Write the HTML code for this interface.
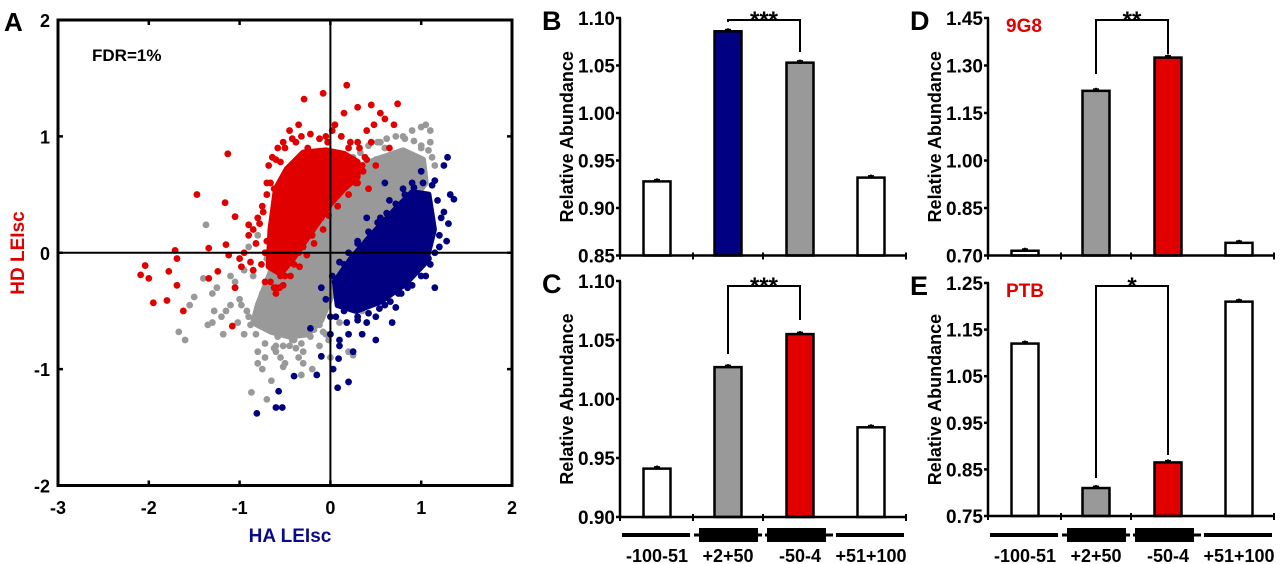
<!DOCTYPE html>
<html><head><meta charset="utf-8">
<style>
html,body{margin:0;padding:0;background:#fff;}
svg{display:block;font-family:"Liberation Sans",Arial,sans-serif;font-weight:bold;}
</style></head>
<body>
<svg id="fig" width="1280" height="564" viewBox="0 0 1280 564" xmlns="http://www.w3.org/2000/svg">
<g id="panelA"></g>
<g id="bars"></g>
</svg>
<script>
// ---------- Panel A data (data units) ----------
const aXTicks = [-3,-2,-1,0,1,2];
const aYTicks = [2,1,0,-1,-2];
const grayCoreX = [-0.8,-0.65,-0.45,-0.15,0.15,0.5,0.8,1.02,1.05,0.9,0.6,0.3,0.05,-0.1,-0.25,-0.45,-0.65,-0.85];
const grayCoreY = [-0.45,-0.15,0.2,0.5,0.68,0.8,0.88,0.8,0.6,0.45,0.2,-0.05,-0.3,-0.58,-0.7,-0.72,-0.68,-0.6];
const redCoreX = [-0.68,-0.66,-0.6,-0.48,-0.3,-0.05,0.15,0.3,0.3,0.15,0.0,-0.12,-0.28,-0.42,-0.55];
const redCoreY = [-0.12,0.2,0.55,0.72,0.86,0.88,0.85,0.78,0.65,0.55,0.42,0.28,0.1,-0.06,-0.18];
const blueCoreX = [0.05,0.22,0.45,0.7,0.9,1.08,1.14,1.05,0.82,0.55,0.28,0.08];
const blueCoreY = [-0.25,-0.06,0.15,0.36,0.52,0.5,0.2,-0.08,-0.27,-0.42,-0.5,-0.45];
const grayX = [-1.67,-1.6,-1.37,-1.5,-1.55,-1.35,-1.3,-1.2,-1.15,-1.1,-1.0,-0.95,-0.9,-0.87,-0.8,-0.75,-0.7,-0.65,-0.6,-0.55,-0.5,-0.45,-0.4,-0.35,-0.3,-0.25,-0.2,-0.15,-0.1,-0.05,0.05,0.1,0.2,0.3,0.35,0.4,0.5,0.6,0.7,0.8,0.9,1.0,1.05,1.1,1.1,0.95,0.85,0.75,0.6,0.45,0.3,0.15,-1.25,-1.05,-0.95,-0.85,-0.75,-0.65,-0.55,-0.45,-0.35,-0.25,-0.15,-0.05,0.0,0.2,0.25,-1.4,-1.3,-1.1,-0.9,-0.8,-0.7,-0.6,-0.5,-0.3,-0.2,0.1,0.35,0.65,0.85,1.15,1.0,0.55,-0.2,-0.4,-0.6,-0.8,-1.05,0.4,
 -0.92,-0.88,-0.82,-0.78,-0.72,-0.68,-0.62,-0.58,-0.52,-0.48,-0.42,-0.38,-0.32,-0.28,-0.22,-0.18,-0.12,-0.08,0.02,0.08,0.12,0.18,0.25,0.33,0.42,0.52,0.62,0.72,0.82,0.92,1.0,1.08,1.12,0.98,0.88,0.78,0.68,0.58,0.48,0.38,0.28,-0.02,-1.02,-1.18,-1.28,-0.98,-0.72,-0.52,-0.32,-0.12];
const grayY = [-0.68,-0.75,0.24,-0.38,-0.45,-0.62,-0.6,-0.55,-0.5,-0.45,-0.4,-0.7,-0.55,-1.2,-0.95,-1.0,-1.26,-1.1,-0.85,-0.9,-0.95,-0.8,-0.75,-0.9,-0.85,-0.6,-0.5,-0.3,-0.2,0.1,0.3,0.4,0.5,0.55,0.7,0.75,0.8,0.9,0.85,1.0,1.05,1.08,1.1,1.05,0.95,0.78,0.65,0.55,0.45,0.35,0.2,0.1,-0.3,-0.3,-0.15,-0.2,-0.35,-0.45,-0.6,-0.55,-0.65,-0.4,-0.55,-0.7,-0.9,-0.85,-0.88,-0.22,-0.35,-0.2,0.05,0.15,-0.05,-0.55,-0.7,-0.95,-1.0,-0.6,-0.5,0.3,0.55,0.75,0.9,0.95,-0.2,-0.1,-0.8,-0.85,-0.25,0.6,
 -0.5,-0.62,-0.7,-0.52,-0.78,-0.65,-0.82,-0.72,-0.8,-0.68,-0.75,-0.82,-0.78,-0.7,-0.72,-0.66,-0.62,-0.68,0.62,0.7,0.72,0.78,0.82,0.86,0.92,0.95,0.98,1.0,0.98,0.96,0.92,0.88,0.82,0.7,0.6,0.5,0.4,0.28,0.15,0.02,-0.08,-0.75,-0.6,-0.7,-0.5,-0.45,-0.9,-0.98,-1.05,-0.8];
const redX = [0.18,-0.08,-0.29,-1.13,-1.47,-1.16,-1.05,-0.9,-1.71,-1.69,-2.04,-2.09,-2.0,-1.78,-1.69,-1.95,-1.8,-1.62,-1.34,-1.34,-1.24,-1.15,-1.12,-1.05,-1.08,0.74,0.45,0.3,0.55,0.6,0.15,0.05,-0.05,-0.35,-0.45,-0.55,-0.6,-0.62,-0.7,-0.75,-0.8,-0.85,-0.9,-0.95,-0.98,-0.85,-0.72,-0.6,-0.5,-0.4,-0.3,-0.2,-0.1,0.0,0.1,0.2,0.3,0.4,0.48,0.35,0.25,0.1,-0.15,-0.25,-0.38,-0.5,-0.66,-0.58,-0.7,-0.65,-0.55,-0.45,-0.35,0.28,0.42,0.5,0.65,0.7,0.12,-0.03,-1.0,-0.78,-0.6,
 -0.72,-0.74,-0.7,-0.68,-0.64,-0.58,-0.52,-0.42,-0.32,-0.22,-0.12,0.02,0.12,0.22,0.32,0.38,0.36,0.3,0.2,0.08,-0.02,-0.08,-0.18,-0.26,-0.34,-0.44,-0.52,-0.62,-0.76,-0.82,-0.88,-0.66,-0.56,0.45,0.4,0.25,0.05,-0.2];
const redY = [1.44,1.37,1.32,0.85,0.5,0.43,0.31,0.24,0.02,-0.05,-0.11,-0.19,-0.22,-0.16,-0.28,-0.43,-0.41,-0.5,0.04,-0.22,-0.16,0.07,-0.02,-0.3,-0.63,1.28,1.27,1.25,1.2,1.15,1.2,1.1,1.0,1.1,1.05,0.78,0.8,0.55,0.5,0.4,0.3,0.2,0.15,0.0,-0.12,-0.15,-0.25,-0.3,-0.2,-0.1,0.05,0.15,0.3,0.55,0.85,0.9,0.95,1.05,1.1,0.75,0.7,0.65,0.8,0.9,0.95,0.9,0.6,0.45,0.1,-0.05,-0.2,-0.05,0.0,0.6,0.55,0.75,0.9,1.1,1.0,0.95,-0.05,0.25,-0.35,
 0.0,0.35,0.6,0.75,0.82,0.9,0.95,0.98,1.0,1.02,0.98,1.05,1.0,0.95,0.9,0.82,0.7,0.6,0.5,0.4,0.32,0.2,0.08,-0.02,-0.12,-0.2,-0.28,-0.3,-0.1,0.08,-0.08,-0.25,-0.3,0.95,0.8,0.62,0.5,0.2];
const blueX = [-0.81,-0.6,-0.53,-0.57,-0.4,-0.15,0.03,0.08,0.2,0.09,-0.1,-0.22,0.68,0.72,1.36,1.29,1.25,1.32,1.3,1.28,1.2,1.1,1.15,1.05,1.08,0.95,0.85,0.75,0.6,0.5,0.4,0.3,0.2,0.1,0.0,-0.05,0.05,0.15,0.3,0.45,0.55,0.65,0.8,0.9,1.0,1.15,1.25,0.5,0.35,0.25,0.45,0.58,0.3,0.15,0.95,1.05,0.4,0.6,0.8,-0.1,0.0,0.1,
 0.02,0.1,0.2,0.3,0.42,0.52,0.62,0.72,0.82,0.92,1.02,1.12,1.18,1.22,1.2,1.15,1.1,1.0,0.9,0.78,0.66,0.54,0.42,0.3,0.18,0.06,0.35,0.55,0.75,0.95];
const blueY = [-1.38,-1.33,-1.33,-1.19,-1.06,-1.05,-1.0,-1.16,-1.11,-0.91,-0.89,-0.65,-0.6,-0.47,0.46,0.82,0.75,0.5,0.25,0.1,0.05,-0.1,-0.3,-0.2,-0.05,-0.15,-0.3,-0.35,-0.45,-0.55,-0.6,-0.55,-0.7,-0.75,-0.7,-0.4,-0.25,-0.5,-0.35,-0.2,0.3,0.45,0.55,0.6,0.7,0.62,0.35,-0.75,-0.7,-0.85,-0.4,-0.15,0.1,-0.1,0.2,0.4,0.3,0.6,0.1,-0.3,-0.55,-0.8,
 -0.2,-0.08,0.0,0.08,0.18,0.26,0.34,0.42,0.5,0.56,0.6,0.58,0.45,0.3,0.15,0.0,-0.1,-0.2,-0.28,-0.35,-0.42,-0.48,-0.52,-0.58,-0.6,-0.55,-0.45,-0.4,-0.25,-0.1];

// ---------- Bar panel data ----------
const barCategories = ["-100-51","+2+50","-50-4","+51+100"];
const bValues = [0.928,1.086,1.053,0.932];
const cValues = [0.941,1.027,1.055,0.976];
const dValues = [0.715,1.220,1.325,0.740];
const eValues = [1.120,0.810,0.865,1.210];
const bTicks = ["0.85","0.90","0.95","1.00","1.05","1.10"];
const cTicks = ["0.90","0.95","1.00","1.05","1.10"];
const dTicks = ["0.70","0.85","1.00","1.15","1.30","1.45"];
const eTicks = ["0.75","0.85","0.95","1.05","1.15","1.25"];
const bColors = ["#fff","#000080","#999","#fff"];
const cColors = ["#fff","#999","#e00000","#fff"];
const dColors = ["#fff","#999","#e00000","#fff"];
const eColors = ["#fff","#999","#e00000","#fff"];

const NS="http://www.w3.org/2000/svg";
function mk(tag, parent, attrs){const e=document.createElementNS(NS,tag);for(const k in attrs)e.setAttribute(k,attrs[k]);parent.appendChild(e);return e;}

// ---------- Panel A ----------
const A=document.getElementById('panelA');
const L=58,R=512,T=20,B=485.5;
const sx=v=>L+(v+3)*(R-L)/5;
const sy=v=>B-(v+2)*(B-T)/4;
function poly(xs,ys,col,name){
  const p=mk('polygon',A,{points:xs.map((x,i)=>sx(x)+','+sy(ys[i])).join(' '),fill:col,stroke:col,'stroke-width':6,'stroke-linejoin':'round'});
  
  
}
function pts(xs,ys,col,name){
  xs.forEach((x,i)=>{const c=mk('circle',A,{cx:sx(x),cy:sy(ys[i]),r:3.4,fill:col});
    
    });
}
poly(grayCoreX,grayCoreY,'#999','gray-density-core');
pts(grayX,grayY,'#999','gray-point');
poly(redCoreX,redCoreY,'#e00000','red-density-core');
poly(blueCoreX,blueCoreY,'#000080','blue-density-core');
pts(redX,redY,'#e00000','red-point');
pts(blueX,blueY,'#000080','blue-point');
let zl=mk('line',A,{x1:sx(0),x2:sx(0),y1:T,y2:B,stroke:'#000','stroke-width':2});

zl=mk('line',A,{x1:L,x2:R,y1:sy(0),y2:sy(0),stroke:'#000','stroke-width':2});

const box=mk('rect',A,{x:L,y:T,width:R-L,height:B-T,fill:'none',stroke:'#000','stroke-width':3});

aXTicks.forEach(v=>{
  mk('line',A,{x1:sx(v),x2:sx(v),y1:B,y2:B-5,stroke:'#000','stroke-width':2.5});
  mk('line',A,{x1:sx(v),x2:sx(v),y1:T,y2:T+5,stroke:'#000','stroke-width':2.5});
  const t=mk('text',A,{x:sx(v),y:514,'font-size':18,'text-anchor':'middle'});t.textContent=v;
  
});
aYTicks.forEach(v=>{
  mk('line',A,{x1:L,x2:L+5,y1:sy(v),y2:sy(v),stroke:'#000','stroke-width':2.5});
  mk('line',A,{x1:R,x2:R-5,y1:sy(v),y2:sy(v),stroke:'#000','stroke-width':2.5});
  const t=mk('text',A,{x:50,y:sy(v)+7,'font-size':18,'text-anchor':'end'});t.textContent=v;
  
});
let t=mk('text',A,{x:4,y:31,'font-size':26});t.textContent='A';

t=mk('text',A,{x:92,y:61,'font-size':17});t.textContent='FDR=1%';

t=mk('text',A,{x:290,y:542,'font-size':19,'text-anchor':'middle',fill:'#0a0a8a'});t.textContent='HA LEIsc';

t=mk('text',A,{x:0,y:0,'font-size':19,'text-anchor':'middle',fill:'#e00000',transform:'translate(24,253) rotate(-90)'});t.textContent='HD LEIsc';


// ---------- Bar panels ----------
const G=document.getElementById('bars');
const offsets=[37,108,180,251];
function panel(cfg){
  const g=mk('g',G,{});
  
  
  const ax=cfg.ax, top=cfg.top, bot=cfg.bot;
  const ticks=cfg.ticks.map(Number);
  const ymin=ticks[0], ymax=ticks[ticks.length-1];
  const y=v=>bot-(v-ymin)/(ymax-ymin)*(bot-top);
  cfg.values.forEach((v,i)=>{
    const cx=ax+offsets[i];
    const r=mk('rect',g,{x:cx-13.5,y:y(v),width:27,height:bot-y(v),fill:cfg.colors[i],stroke:'#000','stroke-width':2.5});
    
    
    mk('line',g,{x1:cx-3,x2:cx+3,y1:y(v)-1.5,y2:y(v)-1.5,stroke:'#000','stroke-width':2});
    mk('line',g,{x1:cx,x2:cx,y1:y(v)-3,y2:y(v)+1,stroke:'#000','stroke-width':2});
  });
  mk('line',g,{x1:ax,x2:ax,y1:top,y2:bot,stroke:'#000','stroke-width':2.5});
  mk('line',g,{x1:ax,x2:ax+286,y1:bot,y2:bot,stroke:'#000','stroke-width':2.5});
  [0,73,143,286].forEach(o=>mk('line',g,{x1:ax+o,x2:ax+o,y1:bot-3,y2:bot+4,stroke:'#000','stroke-width':2}));
  cfg.ticks.forEach(s=>{
    const v=Number(s);
    mk('line',g,{x1:ax-4,x2:ax+1,y1:y(v),y2:y(v),stroke:'#000','stroke-width':2.5});
    const tt=mk('text',g,{x:ax-5,y:y(v)+7,'font-size':19,'text-anchor':'end'});tt.textContent=s;
    
  });
  const yt=mk('text',g,{x:0,y:0,'font-size':18,'text-anchor':'middle',transform:`translate(${ax-47},${(top+bot)/2}) rotate(-90)`});
  yt.textContent='Relative Abundance';
  
  const pl=mk('text',g,{x:ax-78,y:top+12,'font-size':27});pl.textContent=cfg.letter;
  
  if(cfg.protein){const p=mk('text',g,{x:ax+18,y:top+14,'font-size':19,fill:'#e00000'});p.textContent=cfg.protein;
    }
  const x1=ax+offsets[1], x2=ax+offsets[2];
  const br=mk('polyline',g,{points:`${x1},${cfg.bl} ${x1},${cfg.by} ${x2},${cfg.by} ${x2},${cfg.brr}`,fill:'none',stroke:'#000','stroke-width':2});
  
  const st=mk('text',g,{x:(x1+x2)/2,y:cfg.by+8,'font-size':24,'text-anchor':'middle'});st.textContent=cfg.stars;
  
  if(cfg.schem){
    const sy0=535;
    mk('line',g,{x1:ax+2,x2:ax+70,y1:sy0,y2:sy0,stroke:'#000','stroke-width':4});
    mk('line',g,{x1:ax+74,x2:ax+142,y1:sy0,y2:sy0,stroke:'#000','stroke-width':3});
    mk('rect',g,{x:ax+79,y:sy0-7,width:59,height:14,fill:'#000'});
    mk('line',g,{x1:ax+145,x2:ax+213,y1:sy0,y2:sy0,stroke:'#000','stroke-width':3});
    mk('rect',g,{x:ax+147,y:sy0-7,width:59,height:14,fill:'#000'});
    mk('line',g,{x1:ax+216,x2:ax+284,y1:sy0,y2:sy0,stroke:'#000','stroke-width':4});
    barCategories.forEach((c,i)=>{const l=mk('text',g,{x:ax+offsets[i],y:562,'font-size':18,'text-anchor':'middle'});l.textContent=c;
      });
  }
}
panel({name:'panel-b',letter:'B',ax:620,top:18,bot:255.5,ticks:bTicks,values:bValues,colors:bColors,by:20,bl:22,brr:52,stars:'***'});
panel({name:'panel-c',letter:'C',ax:620,top:281,bot:517,ticks:cTicks,values:cValues,colors:cColors,by:286,bl:354,brr:320,stars:'***',schem:true});
panel({name:'panel-d',letter:'D',ax:988,top:18,bot:255.5,ticks:dTicks,values:dValues,colors:dColors,by:20,bl:74,brr:54,stars:'**',protein:'9G8'});
panel({name:'panel-e',letter:'E',ax:988,top:283,bot:516,ticks:eTicks,values:eValues,colors:eColors,by:286,bl:478,brr:455,stars:'*',protein:'PTB',schem:true});
</script>
</body></html>
